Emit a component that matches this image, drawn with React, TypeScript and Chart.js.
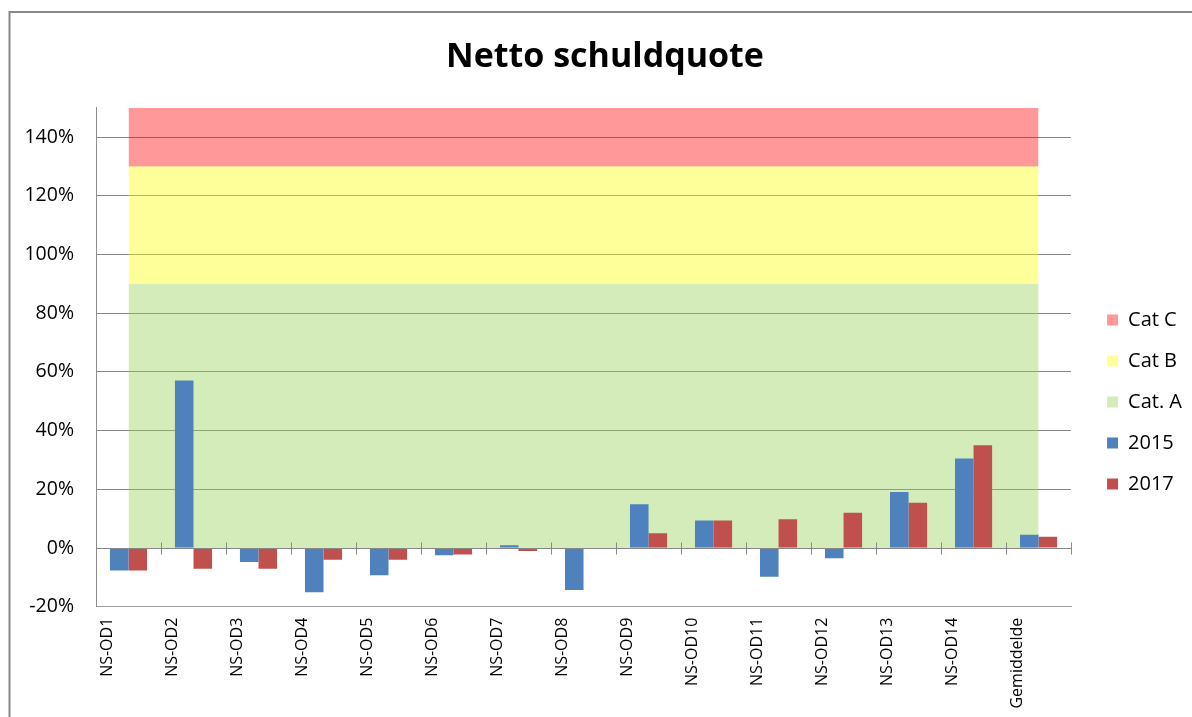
import React, { useEffect, useRef } from 'react';
import { Chart, registerables } from 'chart.js';

Chart.register(...registerables);

const categories = [
  'NS-OD1', 'NS-OD2', 'NS-OD3', 'NS-OD4', 'NS-OD5', 'NS-OD6', 'NS-OD7', 'NS-OD8',
  'NS-OD9', 'NS-OD10', 'NS-OD11', 'NS-OD12', 'NS-OD13', 'NS-OD14', 'Gemiddelde',
];
const values2015 = [-7.7, 57.1, -4.8, -15.1, -9.3, -2.5, 0.9, -14.3, 14.9, 9.4, -9.8, -3.5, 19.1, 30.5, 4.5];
const values2017 = [-7.7, -7.1, -7.1, -4.0, -4.0, -2.2, -1.0, 0, 5.0, 9.4, 9.8, 12.0, 15.4, 35.0, 3.8];
const catA = [90, 90, 90, 90, 90, 90, 90, 90, 90, 90, 90, 90, 90, 90, 90];
const catB = [130, 130, 130, 130, 130, 130, 130, 130, 130, 130, 130, 130, 130, 130, 130];
const catC = [150, 150, 150, 150, 150, 150, 150, 150, 150, 150, 150, 150, 150, 150, 150];
const yMin = -20;
const yMax = 150;
const yStep = 20;
const yTickMax = 140;

const FONT = "'Open Sans', 'DejaVu Sans', sans-serif";
const GRID = '#878787';

const framePlugin = {
  id: 'frame',
  beforeDraw(chart: any) {
    const ctx = chart.ctx;
    ctx.save();
    ctx.fillStyle = '#ffffff';
    ctx.fillRect(0, 0, chart.width, chart.height);
    ctx.strokeStyle = '#888888';
    ctx.lineWidth = 2;
    ctx.strokeRect(9.5, 12, chart.width + 20, chart.height + 20);
    ctx.restore();
  },
};

const axisPlugin = {
  id: 'zeroAxis',
  afterDatasetsDraw(chart: any) {
    const ctx = chart.ctx;
    const xs = chart.scales.x;
    const ys = chart.scales.y;
    const y0 = Math.round(ys.getPixelForValue(0)) + 0.5;
    ctx.save();
    ctx.strokeStyle = GRID;
    ctx.lineWidth = 1;
    ctx.beginPath();
    ctx.moveTo(xs.left, y0);
    ctx.lineTo(xs.right, y0);
    for (let i = 0; i <= categories.length; i++) {
      const px = Math.round(xs.getPixelForValue(i - 0.5)) + 0.5;
      ctx.moveTo(px, y0 - 6);
      ctx.lineTo(px, y0 + 6);
    }
    ctx.stroke();
    ctx.restore();
  },
};

const legendRank = [3, 4, 2, 1, 0];

export default function App() {
  const ref = useRef<HTMLCanvasElement | null>(null);

  useEffect(() => {
    if (!ref.current) return;
    const chart = new Chart(ref.current, {
      type: 'bar',
      data: {
        labels: categories,
        datasets: [
          {
            label: '2015',
            data: values2015,
            backgroundColor: '#4F81BD',
            borderWidth: 0,
            order: 0,
            categoryPercentage: 0.571,
            barPercentage: 1.0,
          } as any,
          {
            label: '2017',
            data: values2017,
            backgroundColor: '#C0504D',
            borderWidth: 0,
            order: 0,
            categoryPercentage: 0.571,
            barPercentage: 1.0,
          } as any,
          {
            type: 'line',
            label: 'Cat. A',
            data: catA,
            backgroundColor: 'rgba(146,208,80,0.4)',
            borderColor: 'rgba(0,0,0,0)',
            borderWidth: 0,
            pointRadius: 0,
            fill: 'origin',
            order: 1,
          } as any,
          {
            type: 'line',
            label: 'Cat B',
            data: catB,
            backgroundColor: 'rgba(255,255,0,0.4)',
            borderColor: 'rgba(0,0,0,0)',
            borderWidth: 0,
            pointRadius: 0,
            fill: '-1',
            order: 1,
          } as any,
          {
            type: 'line',
            label: 'Cat C',
            data: catC,
            backgroundColor: 'rgba(255,0,0,0.4)',
            borderColor: 'rgba(0,0,0,0)',
            borderWidth: 0,
            pointRadius: 0,
            fill: '-1',
            order: 1,
          } as any,
        ],
      },
      options: {
        responsive: false,
        animation: false,
        devicePixelRatio: 1,
        events: [],
        layout: { padding: { left: 18, right: 0, top: 0, bottom: 0 } },
        plugins: {
          title: {
            display: true,
            text: 'Netto schuldquote',
            color: '#000000',
            font: { family: FONT, size: 34, weight: 'bold', lineHeight: 1.2 },
            padding: { top: 37, bottom: 30 },
          },
          legend: {
            display: true,
            position: 'right',
            fullSize: false,
            align: 'center',
            title: { display: true, text: '', padding: { top: 75, bottom: 0 } },
            labels: {
              boxWidth: 11,
              boxHeight: 11,
              padding: 21,
              color: '#000000',
              font: { family: FONT, size: 20 },
              sort: (a: any, b: any) => legendRank[a.datasetIndex] - legendRank[b.datasetIndex],
            },
          },
          tooltip: { enabled: false },
        },
        scales: {
          x: {
            offset: true,
            grid: { display: false, drawTicks: false },
            border: { display: true, color: '#A0A0A0', width: 1 },
            ticks: {
              autoSkip: false,
              minRotation: 90,
              maxRotation: 90,
              padding: 11,
              labelOffset: -21,
              color: '#000000',
              font: { family: FONT, size: 16 },
            },
            afterFit: (s: any) => {
              s.height = 110.3;
            },
          },
          y: {
            min: yMin,
            max: yMax,
            grid: { display: true, color: GRID, lineWidth: 1, drawTicks: false },
            border: { display: true, color: '#8C8C8C', width: 1 },
            ticks: {
              stepSize: yStep,
              padding: 22,
              color: '#000000',
              font: { family: FONT, size: 19.5 },
              callback: (v: any) => v + '%',
            },
            afterBuildTicks: (s: any) => {
              s.ticks = s.ticks.filter((t: any) => t.value <= yTickMax);
            },
            afterFit: (s: any) => {
              s.width = 78;
            },
          },
          yR: {
            type: 'linear',
            position: 'right',
            display: true,
            grid: { display: false, drawTicks: false },
            border: { display: false },
            ticks: { display: false },
            afterFit: (s: any) => {
              s.width = 15;
            },
          },
        },
      } as any,
      plugins: [framePlugin, axisPlugin],
    });
    return () => chart.destroy();
  }, []);

  return (
    <div style={{ position: 'absolute', left: 0, top: 0, width: 1192, height: 717, background: '#fff' }}>
      <canvas ref={ref} width={1192} height={717} style={{ display: 'block' }} />
    </div>
  );
}
